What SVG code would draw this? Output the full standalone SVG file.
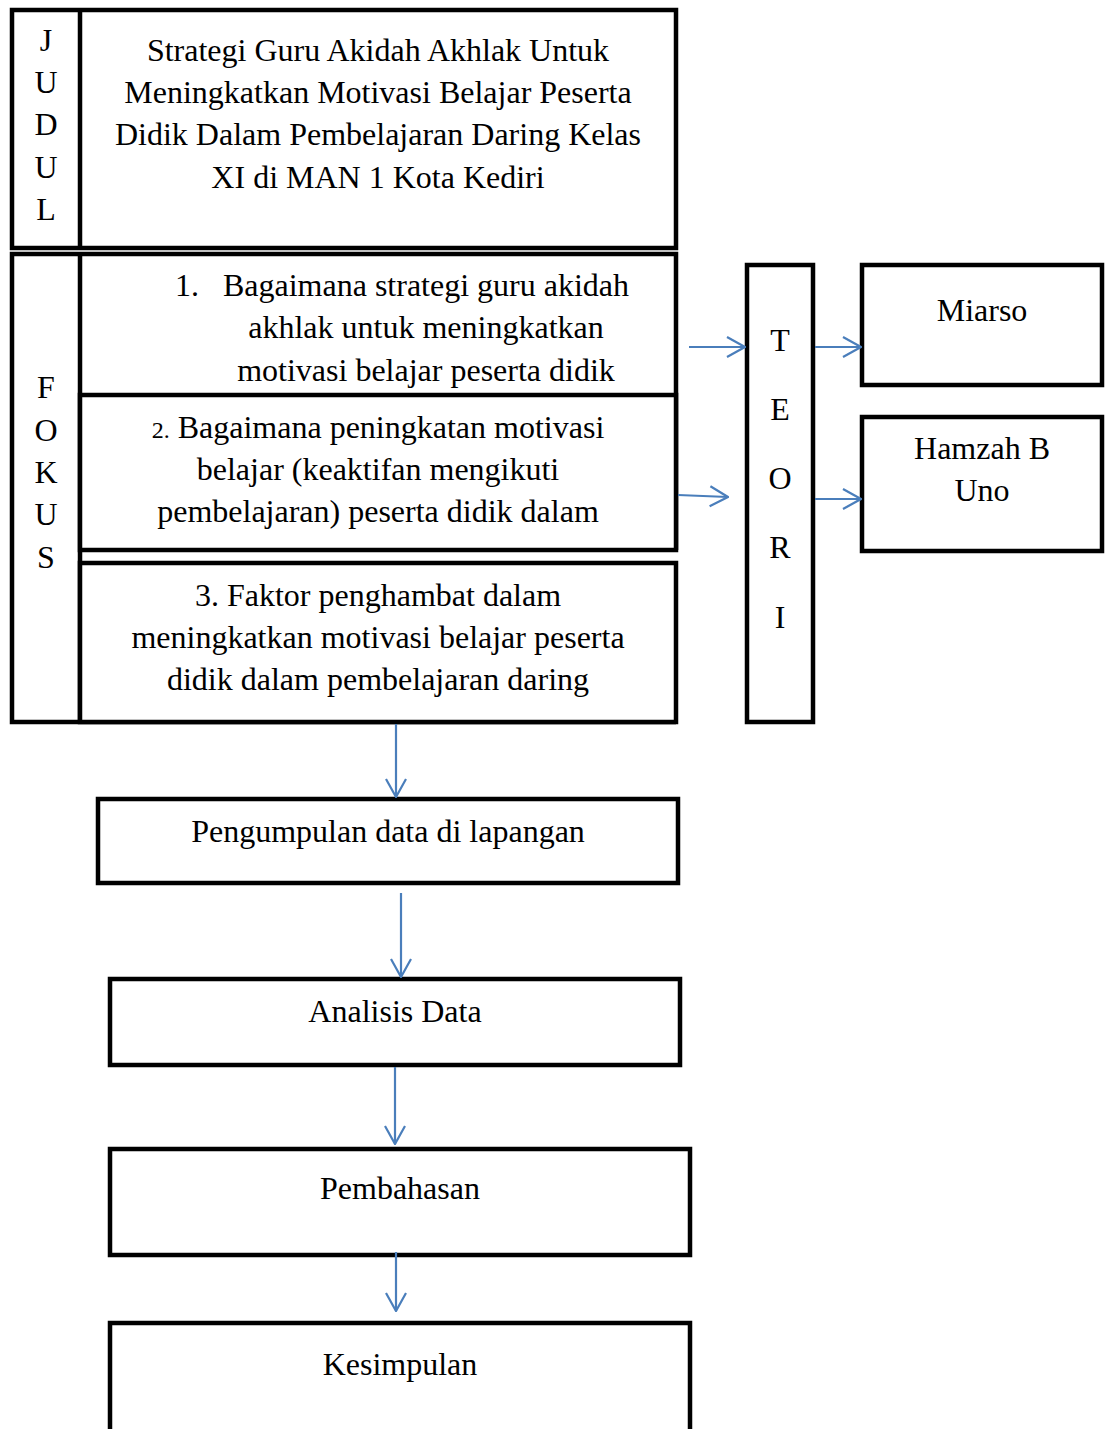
<svg xmlns="http://www.w3.org/2000/svg" width="1111" height="1429" viewBox="0 0 1111 1429">
<defs>
<style>
.box{fill:#fff;stroke:#000;stroke-width:4.5;stroke-linejoin:miter}
.ln{fill:none;stroke:#000;stroke-width:4.5}
.t{font-family:"Liberation Serif","Times New Roman",serif;font-size:32px;fill:#000;text-anchor:middle}
.c{fill:none;stroke:#4a7ebb;stroke-width:2.2}
</style>
<marker id="ah" viewBox="0 0 20 24" refX="19" refY="12" markerWidth="20" markerHeight="24" markerUnits="userSpaceOnUse" orient="auto">
<path d="M1,2 L19,12 L1,22" fill="none" stroke="#4a7ebb" stroke-width="2.2"/>
</marker>
</defs>
<rect width="1111" height="1429" fill="#fff"/>

<g id="judul">
<rect class="box" x="12" y="10" width="664" height="238"/>
<line class="ln" x1="80" y1="10" x2="80" y2="248"/>
<text class="t" x="46" y="51">J</text>
<text class="t" x="46" y="93">U</text>
<text class="t" x="46" y="135">D</text>
<text class="t" x="46" y="178">U</text>
<text class="t" x="46" y="220">L</text>
<text class="t" x="378" y="61">Strategi Guru Akidah Akhlak Untuk</text>
<text class="t" x="378" y="103">Meningkatkan Motivasi Belajar Peserta</text>
<text class="t" x="378" y="145">Didik Dalam Pembelajaran Daring Kelas</text>
<text class="t" x="378" y="188">XI di MAN 1 Kota Kediri</text>
</g>

<g id="fokus">
<path class="ln" d="M676,550 L676,254 L12,254 L12,722 L676,722"/>
<line class="ln" x1="80" y1="254" x2="80" y2="722"/>
<text class="t" x="46" y="398">F</text>
<text class="t" x="46" y="441">O</text>
<text class="t" x="46" y="483">K</text>
<text class="t" x="46" y="525">U</text>
<text class="t" x="46" y="568">S</text>
</g>

<g id="fokus1">
<text class="t" x="187" y="296">1.</text>
<text class="t" x="426" y="296">Bagaimana strategi guru akidah</text>
<text class="t" x="426" y="338">akhlak untuk meningkatkan</text>
<text class="t" x="426" y="381">motivasi belajar peserta didik</text>
</g>

<g id="fokus2">
<rect class="box" x="80" y="395" width="596" height="155"/>
<text class="t" x="378" y="438"><tspan font-size="24">2.</tspan> Bagaimana peningkatan motivasi</text>
<text class="t" x="378" y="480">belajar (keaktifan mengikuti</text>
<text class="t" x="378" y="522">pembelajaran) peserta didik dalam</text>
</g>

<g id="fokus3">
<rect class="box" x="80" y="563" width="596" height="159"/>
<text class="t" x="378" y="606">3. Faktor penghambat dalam</text>
<text class="t" x="378" y="648">meningkatkan motivasi belajar peserta</text>
<text class="t" x="378" y="690">didik dalam pembelajaran daring</text>
</g>

<g id="teori">
<rect class="box" x="747" y="265" width="66" height="457"/>
<text class="t" x="780" y="351">T</text>
<text class="t" x="780" y="420">E</text>
<text class="t" x="780" y="489">O</text>
<text class="t" x="780" y="558">R</text>
<text class="t" x="780" y="628">I</text>
</g>

<g id="miarso">
<rect class="box" x="862" y="265" width="240" height="120"/>
<text class="t" x="982" y="321">Miarso</text>
</g>

<g id="hamzah">
<rect class="box" x="862" y="417" width="240" height="134"/>
<text class="t" x="982" y="459">Hamzah B</text>
<text class="t" x="982" y="501">Uno</text>
</g>

<g id="pengumpulan">
<rect class="box" x="98" y="799" width="580" height="84"/>
<text class="t" x="388" y="842">Pengumpulan data di lapangan</text>
</g>

<g id="analisis">
<rect class="box" x="110" y="979" width="570" height="86"/>
<text class="t" x="395" y="1022">Analisis Data</text>
</g>

<g id="pembahasan">
<rect class="box" x="110" y="1149" width="580" height="106"/>
<text class="t" x="400" y="1199">Pembahasan</text>
</g>

<g id="kesimpulan">
<rect class="box" x="110" y="1323" width="580" height="130"/>
<text class="t" x="400" y="1375">Kesimpulan</text>
</g>

<g id="connectors">
<line class="c" x1="689" y1="347" x2="745" y2="347" marker-end="url(#ah)"/>
<line class="c" x1="678" y1="495" x2="728" y2="497" marker-end="url(#ah)"/>
<line class="c" x1="815" y1="347" x2="861" y2="347" marker-end="url(#ah)"/>
<line class="c" x1="815" y1="499" x2="861" y2="499" marker-end="url(#ah)"/>
<line class="c" x1="396" y1="724" x2="396" y2="797" marker-end="url(#ah)"/>
<line class="c" x1="401" y1="893" x2="401" y2="977" marker-end="url(#ah)"/>
<line class="c" x1="395" y1="1067" x2="395" y2="1144" marker-end="url(#ah)"/>
<line class="c" x1="396" y1="1252" x2="396" y2="1311" marker-end="url(#ah)"/>
</g>
</svg>
